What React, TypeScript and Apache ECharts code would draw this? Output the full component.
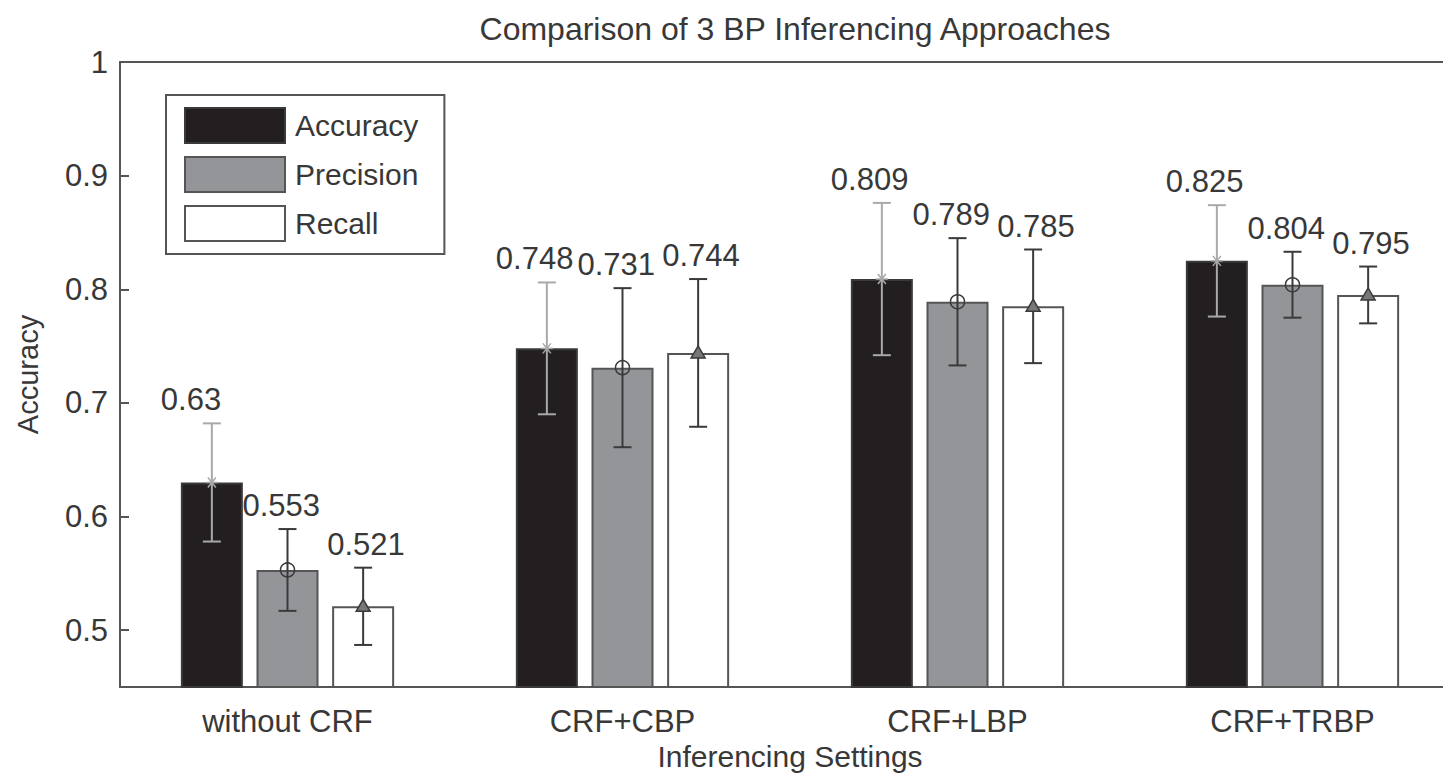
import React, { useEffect, useRef } from 'react';
import * as echarts from 'echarts';

const categories = ['without CRF', 'CRF+CBP', 'CRF+LBP', 'CRF+TRBP'];
const seriesNames = ['Accuracy', 'Precision', 'Recall'];
const accuracy = [0.63, 0.748, 0.809, 0.825];
const precision = [0.553, 0.731, 0.789, 0.804];
const recall = [0.521, 0.744, 0.785, 0.795];
const accuracyErr = [0.052, 0.058, 0.067, 0.049];
const precisionErr = [0.036, 0.07, 0.056, 0.029];
const recallErr = [0.034, 0.065, 0.05, 0.025];

const FONT = '"Liberation Sans", Arial, Helvetica, sans-serif';
const TEXT = '#383838';
const AXIS = '#555555';
const BAR_W = 62;
const BAR_GAP = 0.22;
const STEP = BAR_W * (1 + BAR_GAP);
const barColors = ['#231f20', '#939598', '#ffffff'];
const barBorders = ['#3a3a3a', '#555555', '#555555'];
const errColors = ['#a9a9a9', '#3a3a3a', '#3a3a3a'];
const labelDx = [-51, -45, -36];

export default function App() {
  const ref = useRef<HTMLDivElement>(null);
  useEffect(() => {
    if (!ref.current) return;
    const chart = echarts.init(ref.current, undefined, { renderer: 'svg' });
    const values = [accuracy, precision, recall];
    const errs = [accuracyErr, precisionErr, recallErr];
    const errData: number[][] = [];
    values.forEach((arr, s) => arr.forEach((v, c) => errData.push([c, s, v, errs[s][c]])));

    const renderItem = (params: any, api: any) => {
      const c = api.value(0);
      const s = api.value(1);
      const v = api.value(2);
      const e = api.value(3);
      const p = api.coord([c, v]);
      const x = p[0] + (s - 1) * STEP;
      const yM = p[1];
      const yT = api.coord([c, v + e])[1];
      const yB = api.coord([c, v - e])[1];
      const col = errColors[s];
      const ls = { stroke: col, lineWidth: 2 };
      const children: any[] = [
        { type: 'line', shape: { x1: x, y1: yT, x2: x, y2: yB }, style: ls },
        { type: 'line', shape: { x1: x - 9, y1: yT, x2: x + 9, y2: yT }, style: ls },
        { type: 'line', shape: { x1: x - 9, y1: yB, x2: x + 9, y2: yB }, style: ls },
      ];
      if (s === 0) {
        children.push(
          { type: 'line', shape: { x1: x - 6, y1: yM, x2: x + 6, y2: yM }, style: { stroke: col, lineWidth: 1.5 } },
          { type: 'line', shape: { x1: x - 4, y1: yM - 5, x2: x + 4, y2: yM + 5 }, style: { stroke: col, lineWidth: 1.5 } },
          { type: 'line', shape: { x1: x + 4, y1: yM - 5, x2: x - 4, y2: yM + 5 }, style: { stroke: col, lineWidth: 1.5 } }
        );
      } else if (s === 1) {
        children.push({ type: 'circle', shape: { cx: x, cy: yM, r: 7 }, style: { stroke: col, lineWidth: 1.5, fill: 'none' } });
      } else {
        children.push({
          type: 'polygon',
          shape: { points: [[x - 7, yM + 5], [x, yM - 7], [x + 7, yM + 5]] },
          style: { stroke: col, lineWidth: 1.5, fill: '#777777' },
        });
      }
      children.push({
        type: 'text',
        x: x + labelDx[s],
        y: yT - 8,
        style: {
          text: String(v),
          fontSize: 31,
          fontFamily: FONT,
          fill: TEXT,
          align: 'left',
          verticalAlign: 'bottom',
        },
      });
      return { type: 'group', children };
    };

    const option: any = {
      animation: false,
      backgroundColor: '#ffffff',
      title: {
        text: 'Comparison of 3 BP Inferencing Approaches',
        left: 790,
        textAlign: 'center',
        top: 8,
        textStyle: { fontSize: 32, fontWeight: 'normal', color: TEXT, fontFamily: FONT },
      },
      legend: {
        data: seriesNames,
        orient: 'vertical',
        left: 166,
        top: 95,
        icon: 'rect',
        itemWidth: 100,
        itemHeight: 35,
        itemGap: 12,
        padding: [12, 26, 12, 18],
        borderColor: AXIS,
        borderWidth: 2,
        backgroundColor: '#ffffff',
        textStyle: { fontSize: 30, color: TEXT, fontFamily: FONT, padding: [0, 0, 0, 5] },
      },
      grid: { left: 120, top: 62, width: 1340, height: 625, containLabel: false, outerBoundsMode: 'none' },
      xAxis: [
        {
          type: 'category',
          data: categories,
          position: 'bottom',
          name: 'Inferencing Settings',
          nameLocation: 'middle',
          nameGap: 53,
          nameTextStyle: { fontSize: 30, color: TEXT, fontFamily: FONT },
          axisLine: { lineStyle: { color: AXIS, width: 2 } },
          axisTick: { inside: true, alignWithLabel: true, length: 9, lineStyle: { color: AXIS, width: 2 } },
          axisLabel: { fontSize: 31, color: TEXT, fontFamily: FONT, margin: 19 },
          splitLine: { show: false },
        },
        {
          type: 'category',
          data: categories,
          position: 'top',
          axisLine: { lineStyle: { color: AXIS, width: 2 } },
          axisTick: { inside: true, alignWithLabel: true, length: 9, lineStyle: { color: AXIS, width: 2 } },
          axisLabel: { show: false },
          splitLine: { show: false },
        },
      ],
      yAxis: {
        type: 'value',
        min: 0.45,
        max: 1,
        minInterval: 0.1,
        maxInterval: 0.1,
        splitNumber: 5,
        name: 'Accuracy',
        nameLocation: 'middle',
        nameGap: 78,
        nameTextStyle: { fontSize: 29, color: TEXT, fontFamily: FONT },
        axisLine: { show: true, lineStyle: { color: AXIS, width: 2 } },
        axisTick: { show: true, inside: true, length: 9, lineStyle: { color: AXIS, width: 2 } },
        axisLabel: {
          fontSize: 31,
          color: TEXT,
          fontFamily: FONT,
          margin: 12,
          formatter: (v: number) => {
            const r = Math.round(v * 10) / 10;
            if (Math.abs(v - r) > 1e-6 || r < 0.5) return '';
            return r === 1 ? '1' : r.toFixed(1);
          },
        },
        splitLine: { show: false },
      },
      series: [
        ...seriesNames.map((name, s) => ({
          name,
          type: 'bar',
          data: values[s],
          barWidth: BAR_W,
          barGap: `${BAR_GAP * 100}%`,
          itemStyle: { color: barColors[s], borderColor: barBorders[s], borderWidth: 2 },
          z: 2,
        })),
        {
          name: 'errors',
          type: 'custom',
          data: errData,
          encode: { x: 0, y: 2 },
          renderItem,
          clip: false,
          z: 3,
        },
      ],
    };
    chart.setOption(option);
    return () => chart.dispose();
  }, []);
  return <div ref={ref} style={{ position: 'absolute', left: 0, top: 0, width: 1443, height: 777 }} />;
}
